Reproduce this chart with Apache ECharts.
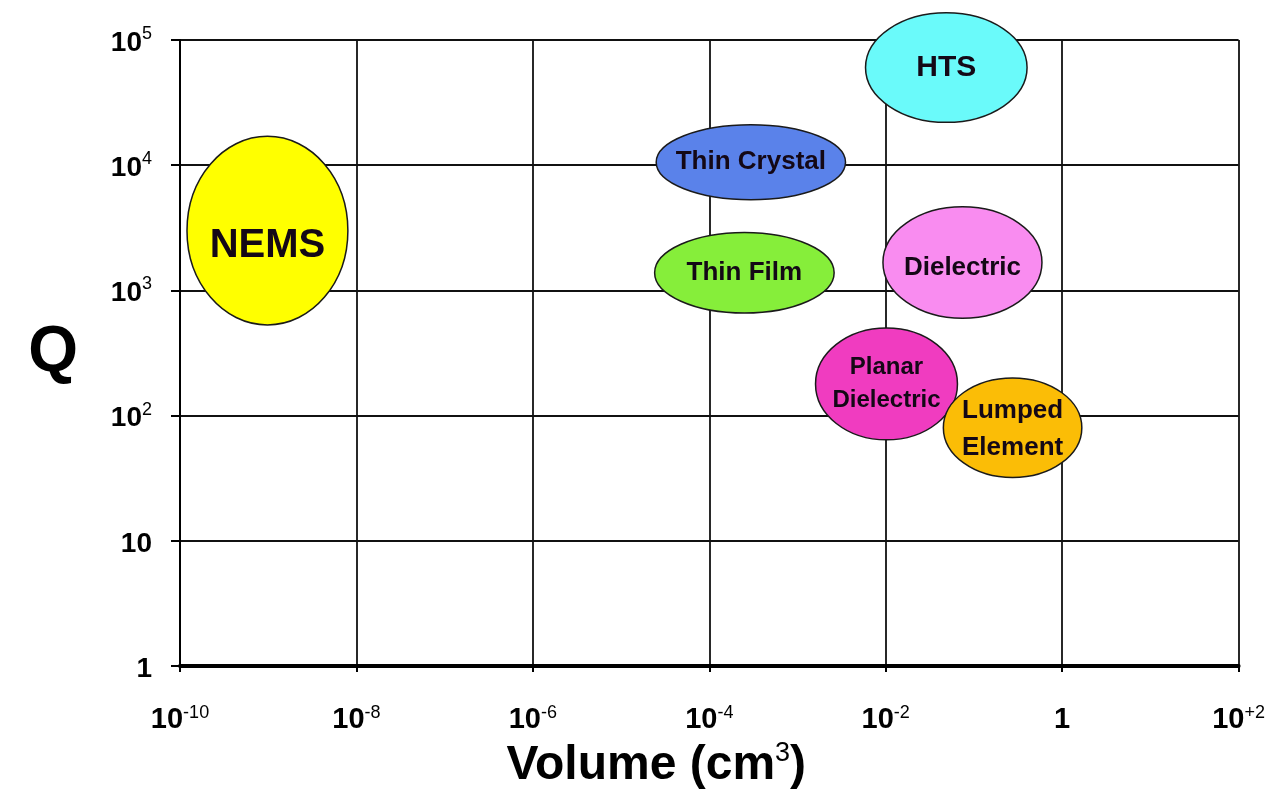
<!DOCTYPE html>
<html><head><meta charset="utf-8">
<script src="https://cdn.jsdelivr.net/npm/echarts@6/dist/echarts.min.js"></script>
<style>html,body{margin:0;padding:0;background:#fff}#c{width:1268px;height:797px}</style>
</head><body><div id="c"></div>
<script>
// Resonator technologies: ranges of volume (cm^3) and Q
const categories = ['NEMS', 'Thin Crystal', 'Thin Film', 'HTS', 'Dielectric', 'Planar\nDielectric', 'Lumped\nElement'];
const volumeMin = [1.2e-10, 2.5e-5, 2.4e-5, 5.9e-3, 9.3e-3, 1.6e-3, 0.045];
const volumeMax = [8e-9, 3.5e-3, 2.6e-3, 0.40, 0.59, 0.065, 1.67];
const qMin = [530, 5300, 660, 22000, 600, 64, 32];
const qMax = [17000, 21000, 2900, 165000, 4650, 500, 200];
const xTickLabels = ['10|-10', '10|-8', '10|-6', '10|-4', '10|-2', '1', '10|+2'];
const yTickLabels = ['1', '10', '10|2', '10|3', '10|4', '10|5'];

// styles
const fills = ['#ffff00', '#5a82ea', '#86ee3a', '#6afafa', '#f98cf0', '#f03cc0', '#fbbd06'];
const labelSize = [40, 26, 26, 30, 26, 24, 26];
const labelLine = [44, 30, 30, 34, 30, 33, 37];
const labelDy = [15, 0, 0, 0, 5, 0, 2];

const FONT = '"Liberation Sans", Arial, sans-serif';

function tickFmt(list) {
  return function (value, index) {
    const s = list[index];
    if (s === undefined) return '';
    const parts = s.split('|');
    if (parts.length === 1) return '{b|' + parts[0] + '}';
    return '{b|' + parts[0] + '}{s|' + parts[1] + '}';
  };
}

const chart = echarts.init(document.getElementById('c'), null, {renderer: 'canvas'});
const data = categories.map((c, i) => [volumeMin[i], volumeMax[i], qMin[i], qMax[i]]);

chart.setOption({
  backgroundColor: '#ffffff',
  animation: false,
  grid: {left: 180, right: 28, top: 40, bottom: 131, containLabel: false},
  xAxis: {
    type: 'log', logBase: 10, min: 1e-10, max: 1e2, interval: 2,
    name: '{a|Volume (cm}{s|3}{a|)}',
    nameLocation: 'middle', nameGap: 74,
    nameTextStyle: {
      padding: [0, 106, 0, 0],
      rich: {
        a: {fontFamily: FONT, fontWeight: 'bold', fontSize: 48, color: '#000', lineHeight: 52},
        s: {fontFamily: FONT, fontSize: 27, color: '#000', verticalAlign: 'top', lineHeight: 27}
      }
    },
    axisLine: {show: true, onZero: false, lineStyle: {color: '#000', width: 4}},
    axisTick: {show: true, length: 6, lineStyle: {color: '#000', width: 2}},
    splitLine: {show: true, lineStyle: {color: '#111', width: 1.8}},
    minorTick: {show: false}, minorSplitLine: {show: false},
    axisLabel: {
      margin: 38,
      formatter: tickFmt(xTickLabels),
      rich: {
        b: {fontFamily: FONT, fontWeight: 'bold', fontSize: 29, color: '#000', lineHeight: 31},
        s: {fontFamily: FONT, fontSize: 18, color: '#000', verticalAlign: 'top', lineHeight: 18}
      }
    }
  },
  yAxis: {
    type: 'log', logBase: 10, min: 1, max: 1e5, interval: 1,
    name: 'Q', nameLocation: 'middle', nameRotate: 0, nameGap: 102,
    nameTextStyle: {fontFamily: FONT, fontWeight: 'bold', fontSize: 64, color: '#000'},
    axisLine: {show: true, lineStyle: {color: '#000', width: 2}},
    axisTick: {show: true, length: 9, lineStyle: {color: '#000', width: 2}},
    splitLine: {show: true, lineStyle: {color: '#111', width: 1.8}},
    minorTick: {show: false}, minorSplitLine: {show: false},
    axisLabel: {
      margin: 28,
      formatter: tickFmt(yTickLabels),
      rich: {
        b: {fontFamily: FONT, fontWeight: 'bold', fontSize: 28, color: '#000', lineHeight: 30, padding: [6, 0, 0, 0]},
        s: {fontFamily: FONT, fontSize: 18, color: '#000', verticalAlign: 'top', lineHeight: 18}
      }
    }
  },
  series: [{
    type: 'custom',
    coordinateSystem: 'cartesian2d',
    encode: {x: [0, 1], y: [2, 3]},
    data: data,
    clip: false,
    renderItem: function (params, api) {
      const i = params.dataIndex;
      const p1 = api.coord([api.value(0), api.value(2)]);
      const p2 = api.coord([api.value(1), api.value(3)]);
      const cx = (p1[0] + p2[0]) / 2, cy = (p1[1] + p2[1]) / 2;
      const rx = Math.abs(p2[0] - p1[0]) / 2, ry = Math.abs(p2[1] - p1[1]) / 2;
      return {
        type: 'group',
        children: [
          {type: 'ellipse', shape: {cx: cx, cy: cy, rx: rx, ry: ry},
           style: {fill: fills[i], stroke: '#1a1a1a', lineWidth: 1.5}},
          {type: 'text', x: cx, y: cy + labelDy[i],
           style: {text: categories[i], fill: '#140816', fontFamily: FONT, fontWeight: 'bold',
                   fontSize: labelSize[i], lineHeight: labelLine[i], align: 'center', verticalAlign: 'middle'}}
        ]
      };
    }
  }]
});
</script></body></html>
